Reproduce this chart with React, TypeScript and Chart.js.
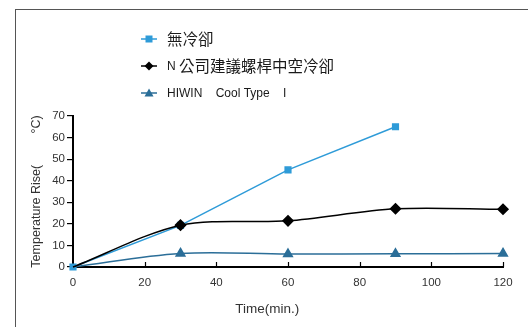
import { useEffect, useRef } from "react";
import { Chart, registerables } from "chart.js";

Chart.register(...registerables);

// ---- data ----
const TIME_NO_COOL = [0, 30, 60, 90];
const TEMP_NO_COOL = [0, 19.3, 45, 65];
const TIME_N_COOL = [0, 30, 60, 90, 120];
const TEMP_N_COOL = [0, 19.4, 21.4, 27, 26.8];
const TIME_HIWIN = [0, 30, 60, 90, 120];
const TEMP_HIWIN = [0, 6.3, 6.0, 6.1, 6.3];
const SERIES_LABELS = ["無冷卻", "N 公司建議螺桿中空冷卻", "HIWIN    Cool Type    I"];
const X_TITLE = "Time(min.)";
const Y_TITLE = "Temperature Rise(         °C)";
const X_MIN = 0, X_MAX = 120, X_STEP = 20;
const Y_MIN = 0, Y_MAX = 70, Y_STEP = 10;

const LATIN = "'Liberation Sans', Arial, sans-serif";
const CJK = "'Noto Sans CJK TC', 'Noto Sans CJK SC', sans-serif";

const C_BLUE = "#2e9bd8";
const C_BLACK = "#000000";
const C_STEEL = "#2b6e98";

function toPts(xs: number[], ys: number[]) {
  return xs.map((x, i) => ({ x, y: ys[i] }));
}

function drawMarker(ctx: CanvasRenderingContext2D, style: string, x: number, y: number, color: string) {
  ctx.fillStyle = color;
  ctx.beginPath();
  if (style === "rect") {
    ctx.rect(x - 3.5, y - 3.5, 7, 7);
  } else if (style === "rectRot") {
    ctx.moveTo(x, y - 4.5);
    ctx.lineTo(x + 4.5, y);
    ctx.lineTo(x, y + 4.5);
    ctx.lineTo(x - 4.5, y);
    ctx.closePath();
  } else {
    ctx.moveTo(x, y - 4.5);
    ctx.lineTo(x + 4.5, y + 3.5);
    ctx.lineTo(x - 4.5, y + 3.5);
    ctx.closePath();
  }
  ctx.fill();
}

function drawMixedText(ctx: CanvasRenderingContext2D, text: string, x: number, y: number) {
  const parts = text.split(/([\u3000-\u9fff\uff00-\uffef]+)/).filter((p) => p.length);
  let cx = x;
  ctx.textAlign = "left";
  ctx.textBaseline = "middle";
  ctx.fillStyle = "#1a1a1a";
  for (const p of parts) {
    const isCjk = /[\u3000-\u9fff\uff00-\uffef]/.test(p);
    ctx.font = isCjk ? `15.5px ${CJK}` : `12px ${LATIN}`;
    ctx.fillText(p, cx, y + (isCjk ? 0 : 0.5));
    cx += ctx.measureText(p).width;
  }
}

const decorPlugin = {
  id: "decor",
  afterDraw(chart: any) {
    const ctx: CanvasRenderingContext2D = chart.ctx;
    ctx.save();
    // outer frame
    ctx.strokeStyle = "#555";
    ctx.lineWidth = 1;
    ctx.strokeRect(15.5, 9.5, 800, 600);
    // inward x ticks
    const xs = chart.scales.x;
    const bottom = chart.chartArea.bottom;
    ctx.strokeStyle = "#000";
    ctx.lineWidth = 1.2;
    xs.ticks.forEach((t: any) => {
      if (t.value === X_MIN) return;
      const px = Math.round(xs.getPixelForValue(t.value)) + 0.5;
      ctx.beginPath();
      ctx.moveTo(px, bottom);
      ctx.lineTo(px, bottom - 5);
      ctx.stroke();
    });
    // legend
    const rows = [39, 66, 93];
    chart.data.datasets.forEach((ds: any, i: number) => {
      const y = rows[i];
      ctx.strokeStyle = ds.borderColor;
      ctx.lineWidth = 1.5;
      ctx.beginPath();
      ctx.moveTo(141, y);
      ctx.lineTo(157, y);
      ctx.stroke();
      drawMarker(ctx, ds.pointStyle, 149, y, ds.pointBackgroundColor);
      drawMixedText(ctx, ds.label, 167, y);
    });
    ctx.restore();
  },
};

export default function App() {
  const ref = useRef<HTMLCanvasElement>(null);
  useEffect(() => {
    if (!ref.current) return;
    const chart = new Chart(ref.current, {
      type: "line",
      data: {
        datasets: [
          {
            label: SERIES_LABELS[0],
            data: toPts(TIME_NO_COOL, TEMP_NO_COOL),
            borderColor: C_BLUE,
            backgroundColor: C_BLUE,
            pointBackgroundColor: C_BLUE,
            pointBorderColor: C_BLUE,
            pointStyle: "rect",
            pointRadius: 4,
            borderWidth: 1.5,
            tension: 0,
            clip: false,
            order: 1,
          },
          {
            label: SERIES_LABELS[1],
            data: toPts(TIME_N_COOL, TEMP_N_COOL),
            borderColor: C_BLACK,
            backgroundColor: C_BLACK,
            pointBackgroundColor: C_BLACK,
            pointBorderColor: C_BLACK,
            pointStyle: "rectRot",
            pointRadius: [0, 5, 5, 5, 5],
            borderWidth: 1.5,
            tension: 0.3,
            clip: false,
            order: 0,
          },
          {
            label: SERIES_LABELS[2],
            data: toPts(TIME_HIWIN, TEMP_HIWIN),
            borderColor: C_STEEL,
            backgroundColor: C_STEEL,
            pointBackgroundColor: C_STEEL,
            pointBorderColor: C_STEEL,
            pointStyle: "triangle",
            pointRadius: [0, 5, 5, 5, 5],
            borderWidth: 1.5,
            tension: 0.35,
            clip: false,
            order: 2,
          },
        ],
      },
      options: {
        animation: false,
        responsive: false,
        layout: { padding: { left: 0, top: 116, right: 25, bottom: 0 } },
        plugins: { legend: { display: false }, tooltip: { enabled: false } },
        scales: {
          x: {
            type: "linear",
            min: X_MIN,
            max: X_MAX,
            ticks: { stepSize: X_STEP, padding: 9, color: "#333", font: { family: LATIN, size: 11.5 } },
            grid: { display: false, drawTicks: false },
            border: { display: true, color: "#000", width: 2 },
            title: {
              display: true,
              text: X_TITLE + "           ",
              color: "#333",
              font: { family: LATIN, size: 13.5 },
              padding: { top: 0, bottom: 10 },
            },
            afterFit: (s: any) => { s.height = 60; },
          },
          y: {
            min: Y_MIN,
            max: Y_MAX,
            ticks: { stepSize: Y_STEP, padding: 2, color: "#333", font: { family: LATIN, size: 11.5 } },
            grid: { drawOnChartArea: false, drawTicks: true, tickLength: 6, color: "#000", lineWidth: 1.2 },
            border: { display: true, color: "#000", width: 2 },
            title: {
              display: true,
              text: Y_TITLE,
              color: "#333",
              font: { family: LATIN, size: 12.5 },
              padding: { top: 29, bottom: 0 },
            },
            afterFit: (s: any) => { s.width = 73; },
          },
        },
      },
      plugins: [decorPlugin],
    });
    return () => chart.destroy();
  }, []);
  return (
    <canvas
      ref={ref}
      width={528}
      height={327}
      style={{ position: "absolute", left: 0, top: 0, width: 528, height: 327, display: "block", background: "#fff" }}
    />
  );
}
